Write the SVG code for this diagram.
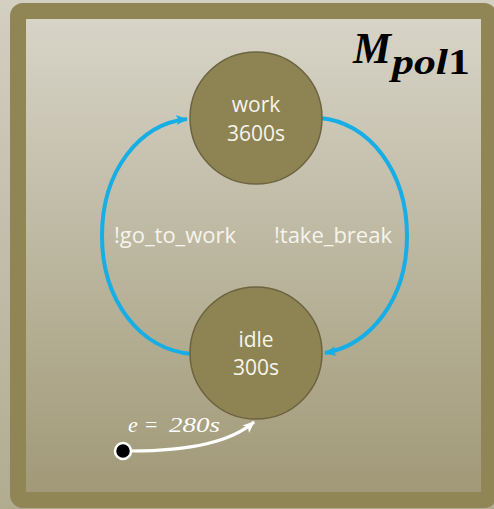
<svg xmlns="http://www.w3.org/2000/svg" width="494" height="509" viewBox="0 0 494 509">
  <defs>
    <linearGradient id="bgOuter" x1="0" y1="0" x2="0" y2="1">
      <stop offset="0" stop-color="#d3cfc1"/>
      <stop offset="1" stop-color="#b1ab90"/>
    </linearGradient>
    <linearGradient id="bgInner" x1="0" y1="0" x2="0" y2="1">
      <stop offset="0" stop-color="#d8d5c9"/>
      <stop offset="1" stop-color="#a09876"/>
    </linearGradient>
    <marker id="arrBlue" viewBox="0 0 12 10" refX="11" refY="5" markerWidth="12" markerHeight="10" markerUnits="userSpaceOnUse" orient="auto">
      <path d="M0,0 L12,5 L0,10 L3,5 Z" fill="#17aee6"/>
    </marker>
    <marker id="arrWhite" viewBox="0 0 12 10" refX="11" refY="5" markerWidth="12" markerHeight="10" markerUnits="userSpaceOnUse" orient="auto">
      <path d="M0,0 L12,5 L0,10 L3,5 Z" fill="#ffffff"/>
    </marker>
  </defs>
  <style>
    .state { fill: #8e8453; stroke: #6c6440; stroke-width: 1.5; }
    .lbl { font-family: "Open Sans", "Noto Sans", sans-serif; font-size: 21px; fill: #f6f4ec; text-anchor: middle; }
    .elbl { font-size: 22px; }
    .edge { fill: none; stroke: #17aee6; stroke-width: 4; marker-end: url(#arrBlue); }
    .init { fill: none; stroke: #ffffff; stroke-width: 3; marker-end: url(#arrWhite); }
    .math { font-family: "Liberation Serif", "DejaVu Serif", serif; font-style: italic; }
  </style>

  <rect x="0" y="0" width="494" height="509" fill="url(#bgOuter)"/>
  <g id="frame">
    <rect x="18" y="11" width="471" height="489" rx="5" fill="url(#bgInner)" stroke="#8f8555" stroke-width="16"/>
    <text x="353" y="63" class="math" font-weight="bold" font-size="44" fill="#000000" textLength="38" lengthAdjust="spacingAndGlyphs">M</text>
    <text x="392" y="74" class="math" font-weight="bold" font-size="35" fill="#000000" textLength="78" lengthAdjust="spacingAndGlyphs">pol<tspan font-style="normal">1</tspan></text>
  </g>

  <g id="connectors">
    <path id="e-go" class="edge" d="M192,354 C140,350 102,300 102,236 C102,170 140,124 187,119"/>
    <path id="e-break" class="edge" d="M320,118 C368,122 407,170 407,236 C407,300 370,345 325,353"/>
    <path id="e-init" class="init" d="M131,451 C185,451 230,443 254,422"/>
    <text class="lbl elbl" x="175" y="243">!go_to_work</text>
    <text class="lbl elbl" x="333" y="243">!take_break</text>
    <text class="math" x="128" y="432" font-size="22" fill="#ffffff"><tspan x="128">e</tspan><tspan x="145" font-style="normal">=</tspan><tspan x="169" textLength="51" lengthAdjust="spacingAndGlyphs">280s</tspan></text>
  </g>

  <g id="node-work">
    <circle class="state" cx="256" cy="118" r="66"/>
    <text class="lbl" x="256" y="112">work</text>
    <text class="lbl" x="256" y="141">3600s</text>
  </g>

  <g id="node-idle">
    <circle class="state" cx="256" cy="353" r="66"/>
    <text class="lbl" x="256" y="347">idle</text>
    <text class="lbl" x="256" y="375">300s</text>
  </g>

  <g id="node-init">
    <circle cx="123" cy="451" r="8" fill="#000000" stroke="#ffffff" stroke-width="2.5"/>
  </g>
</svg>
